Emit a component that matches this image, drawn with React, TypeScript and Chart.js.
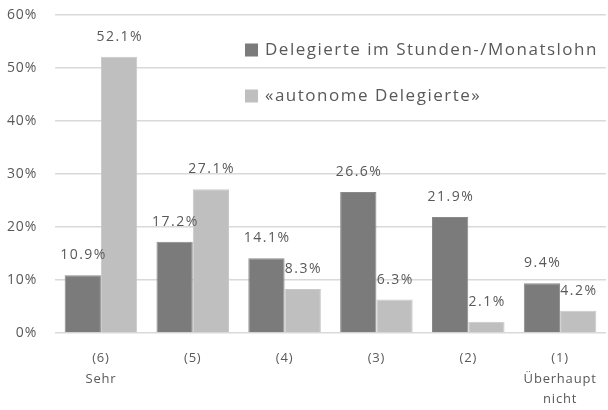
import React, { useEffect, useRef } from "react";
import { Chart, registerables } from "chart.js";

Chart.register(...registerables);

const categories: string[][] = [
  ["(6)", "Sehr"],
  ["(5)"],
  ["(4)"],
  ["(3)"],
  ["(2)"],
  ["(1)", "Überhaupt", "nicht"],
];
const seriesNames = ["Delegierte im Stunden-/Monatslohn", "«autonome Delegierte»"];
const hourlyValues = [10.9, 17.2, 14.1, 26.6, 21.9, 9.4];
const autonomousValues = [52.1, 27.1, 8.3, 6.3, 2.1, 4.2];
const yTicks = [0, 10, 20, 30, 40, 50, 60];

const TEXT = "#595959";
const FONT = "'Open Sans', 'DejaVu Sans', sans-serif";

const spacingPlugin = {
  id: "letterSpacing",
  beforeDraw(chart: any) {
    chart.ctx.letterSpacing = "0.8px";
  },
};

const labelPlugin = {
  id: "valueLabels",
  afterDatasetsDraw(chart: any) {
    const ctx = chart.ctx;
    ctx.save();
    ctx.letterSpacing = "1.5px";
    ctx.font = `14px ${FONT}`;
    ctx.fillStyle = TEXT;
    ctx.textAlign = "center";
    ctx.textBaseline = "middle";
    chart.data.datasets.forEach((ds: any, di: number) => {
      const meta = chart.getDatasetMeta(di);
      meta.data.forEach((el: any, i: number) => {
        const v = ds.data[i];
        ctx.fillText(v.toFixed(1) + "%", el.x + 0.75, el.y - 20);
      });
    });
    ctx.restore();
  },
};

const legendPlugin = {
  id: "innerLegend",
  afterDraw(chart: any) {
    const ctx = chart.ctx;
    ctx.save();
    ctx.letterSpacing = "1.5px";
    ctx.font = `17px ${FONT}`;
    ctx.textBaseline = "middle";
    ctx.textAlign = "left";
    const ys = [50, 96];
    chart.data.datasets.forEach((ds: any, di: number) => {
      const y = ys[di];
      ctx.fillStyle = ds.backgroundColor;
      ctx.fillRect(245, y - 6.5, 13, 13);
      ctx.fillStyle = TEXT;
      ctx.fillText(ds.label, 265, y);
    });
    ctx.restore();
  },
};

export default function App() {
  const ref = useRef<HTMLCanvasElement>(null);
  useEffect(() => {
    document.body.style.margin = "0";
    const chart = new Chart(ref.current!, {
      type: "bar",
      data: {
        labels: categories,
        datasets: [
          {
            label: seriesNames[0],
            data: hourlyValues,
            backgroundColor: "#7b7b7b",
            borderColor: "#8a8a8a",
            borderWidth: 1,
            categoryPercentage: 0.79,
            barPercentage: 1,
          },
          {
            label: seriesNames[1],
            data: autonomousValues,
            backgroundColor: "#bfbfbf",
            borderColor: "#c9c9c9",
            borderWidth: 1,
            categoryPercentage: 0.79,
            barPercentage: 1,
          },
        ],
      },
      options: {
        animation: false,
        responsive: false,
        maintainAspectRatio: false,
        layout: { padding: { top: 15, left: 0, right: 0, bottom: 0 } },
        plugins: {
          legend: { display: false },
          tooltip: { enabled: false },
        },
        scales: {
          x: {
            grid: { display: false, drawTicks: false },
            border: { display: false },
            ticks: {
              color: TEXT,
              font: { family: FONT, size: 13, lineHeight: 1.58 } as any,
              padding: 15,
              maxRotation: 0,
              autoSkip: false,
            },
            afterFit(scale: any) {
              scale.height = 77;
            },
          },
          y: {
            min: 0,
            max: 60,
            grid: {
              color: "#d9d9d9",
              lineWidth: 1.5,
              drawTicks: true,
              tickLength: 18,
              tickColor: "rgba(0,0,0,0)",
            },
            border: { display: false },
            afterBuildTicks(scale: any) {
              scale.ticks = yTicks.map((v) => ({ value: v }));
            },
            ticks: {
              color: TEXT,
              font: { family: FONT, size: 14 },
              padding: 0,
              callback: (v: any) => v + "%",
            },
            afterFit(scale: any) {
              scale.width = 55;
            },
          },
        },
      },
      plugins: [spacingPlugin, labelPlugin, legendPlugin],
    });
    return () => chart.destroy();
  }, []);
  return (
    <div style={{ width: 608, height: 410 }}>
      <canvas ref={ref} width={608} height={410} style={{ display: "block" }} />
    </div>
  );
}
